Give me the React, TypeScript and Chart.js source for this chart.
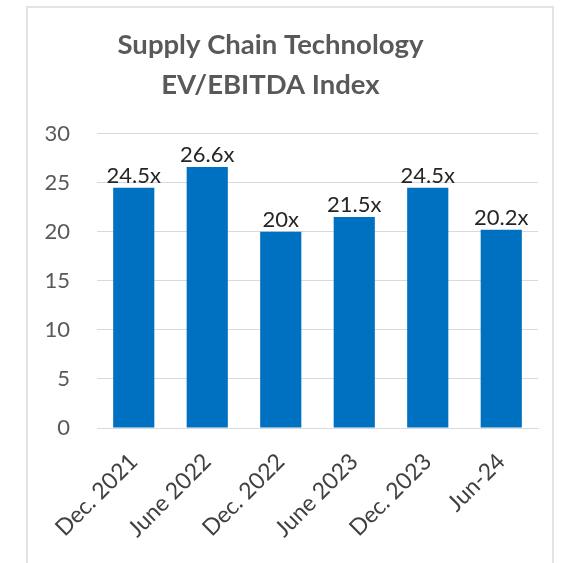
import React, { useEffect, useRef } from "react";
import { Chart, registerables } from "chart.js";

Chart.register(...registerables);

const categories = ["Dec. 2021", "June 2022", "Dec. 2022", "June 2023", "Dec. 2023", "Jun-24"];
const values = [24.5, 26.6, 20, 21.5, 24.5, 20.2];
const valueLabels = ["24.5x", "26.6x", "20x", "21.5x", "24.5x", "20.2x"];
const titleLines = ["Supply Chain Technology", "EV/EBITDA Index"];
const yMin = 0;
const yMax = 30;
const yStep = 5;

const FONT = "Lato, 'Open Sans', sans-serif";

const dataLabelPlugin = {
  id: "dataLabelPlugin",
  afterDatasetsDraw(chart: any) {
    const ctx = chart.ctx;
    const meta = chart.getDatasetMeta(0);
    ctx.save();
    ctx.font = `22px ${FONT}`;
    ctx.fillStyle = "#262626";
    ctx.textAlign = "center";
    ctx.textBaseline = "alphabetic";
    meta.data.forEach((bar: any, i: number) => {
      ctx.fillText(valueLabels[i], bar.x, bar.y - 5);
    });
    ctx.restore();
  },
};

export default function App() {
  const ref = useRef<HTMLCanvasElement | null>(null);
  useEffect(() => {
    if (!ref.current) return;
    const chart = new Chart(ref.current, {
      type: "bar",
      data: {
        labels: categories,
        datasets: [
          {
            data: values,
            backgroundColor: "#0070C0",
            borderWidth: 0,
            categoryPercentage: 0.56,
            barPercentage: 1,
          },
        ],
      },
      options: {
        animation: false,
        responsive: false,
        maintainAspectRatio: false,
        layout: { padding: { left: 3, right: 28, top: 0, bottom: 0 } },
        plugins: {
          legend: { display: false },
          tooltip: { enabled: false },
          title: {
            display: true,
            text: titleLines,
            color: "#595959",
            font: { family: FONT, size: 27.5, weight: "bold", lineHeight: 1.45 },
            padding: { top: 25, bottom: 29 },
          },
        },
        scales: {
          x: {
            grid: { display: false, drawTicks: false },
            border: { display: true, color: "#d9d9d9", width: 1 },
            ticks: {
              color: "#404040",
              font: { family: FONT, size: 23 },
              minRotation: 45,
              maxRotation: 45,
              padding: 20,
              autoSkip: false,
            },
            afterFit(scale: any) {
              scale.height = 135;
            },
          },
          y: {
            min: yMin,
            max: yMax,
            grid: { color: "#d9d9d9", drawTicks: false, lineWidth: 1 },
            border: { display: false },
            ticks: {
              stepSize: yStep,
              color: "#595959",
              font: { family: FONT, size: 22 },
              padding: 27,
            },
            afterFit(scale: any) {
              scale.width = 94;
            },
          },
        },
      },
      plugins: [dataLabelPlugin],
    });
    return () => chart.destroy();
  }, []);
  return (
    <div style={{ position: "fixed", left: 0, top: 0, width: 566, height: 563, background: "#fff", overflow: "hidden" }}>
      <div
        style={{
          position: "absolute",
          left: 26,
          top: 6,
          width: 528,
          height: 620,
          border: "2px solid #e3e3e3",
          boxSizing: "border-box",
        }}
      />
      <canvas ref={ref} width={566} height={563} style={{ position: "absolute", left: 0, top: 0 }} />
    </div>
  );
}
